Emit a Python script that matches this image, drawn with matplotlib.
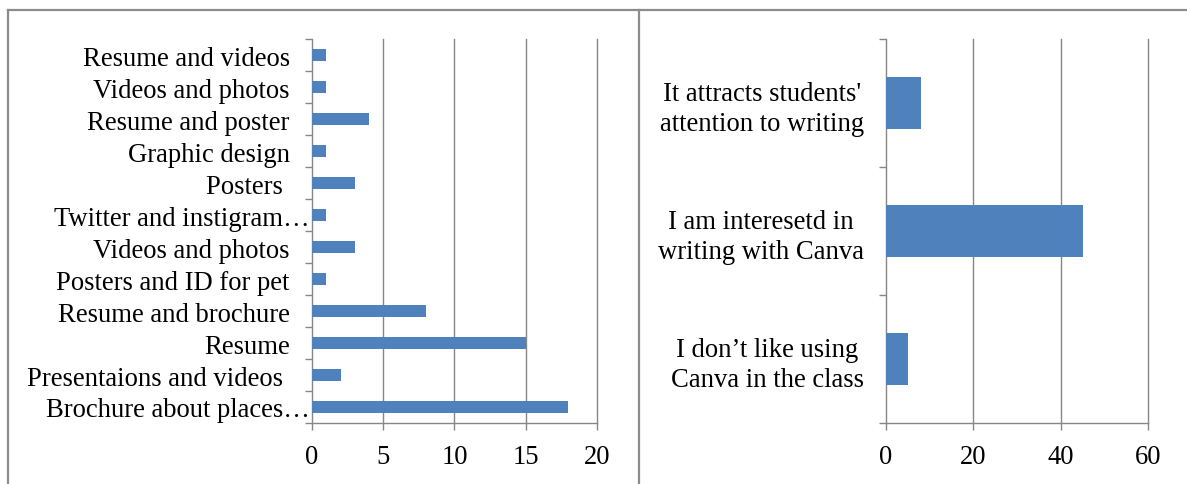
import matplotlib
matplotlib.use("Agg")
import matplotlib.pyplot as plt
import matplotlib.transforms as mtransforms
from matplotlib.lines import Line2D
import numpy as np

plt.rcParams['font.family'] = ['Liberation Serif', 'DejaVu Serif']

# Left chart: kinds of work produced with Canva (top to bottom)
uses = ["Resume and videos", "Videos and photos", "Resume and poster", "Graphic design",
        "Posters ", "Twitter and instigram…", "Videos and photos", "Posters and ID for pet",
        "Resume and brochure", "Resume", "Presentaions and videos ", "Brochure about places…"]
use_counts = [1, 1, 4, 1, 3, 1, 3, 1, 8, 15, 2, 18]
use_ticks = [0, 5, 10, 15, 20]

# Right chart: attitudes toward writing with Canva (top to bottom)
opinions = ["It attracts students'\nattention to writing",
            "I am interesetd in\nwriting with Canva",
            "I don\u2019t like using\nCanva in the class"]
opinion_counts = [8, 45, 5]
opinion_ticks = [0, 20, 40, 60]

BAR = "#4F81BD"
GRID = "#868686"
FS = 19.2

W, H = 1187, 485
fig = plt.figure(figsize=(W / 100, H / 100), dpi=100)


def style(ax, labels, values, ticks):
    n = len(labels)
    pos = np.arange(n)[::-1]
    ax.barh(pos, values, height=0.4, color=BAR, zorder=3)
    ax.set_ylim(-0.5, n - 0.5)
    ax.set_xlim(ticks[0], ticks[-1])
    ax.set_yticks(pos)
    ax.set_yticklabels(labels)
    ax.set_yticks(np.arange(-0.5, n, 1.0), minor=True)
    ax.tick_params(axis='y', which='major', length=0, pad=16, labelsize=FS)
    ax.tick_params(axis='y', which='minor', length=5, width=1, color=GRID, direction='out')
    ax.set_xticks(ticks)
    ax.tick_params(axis='x', which='major', length=5, width=1, color=GRID,
                   direction='out', pad=10, labelsize=FS)
    for t in ticks[1:]:
        ax.axvline(t, color=GRID, lw=1, zorder=1, clip_on=False)
    for s in ('top', 'right'):
        ax.spines[s].set_visible(False)
    for s in ('left', 'bottom'):
        ax.spines[s].set_color(GRID)
        ax.spines[s].set_linewidth(1)
    ax.set_facecolor('none')


y0 = (H - 424) / H
hgt = (424 - 40) / H

ax1 = fig.add_axes([312 / W, y0, 285 / W, hgt])
style(ax1, uses, use_counts, use_ticks)
for lbl in ax1.get_yticklabels():
    if lbl.get_text().endswith('…'):
        lbl.set_transform(lbl.get_transform() +
                          mtransforms.ScaledTranslation(20 / 100, 0, fig.dpi_scale_trans))

ax2 = fig.add_axes([886 / W, y0, 262 / W, hgt])
style(ax2, opinions, opinion_counts, opinion_ticks)
for lbl in ax2.get_yticklabels():
    lbl.set_multialignment('center')
    lbl.set_linespacing(1.25)

# panel frame lines
frame = dict(color="#8C8C8C", lw=1.6, transform=fig.transFigure)
ty = 1 - 11 / H
fig.add_artist(Line2D([8 / W, 1], [ty, ty], **frame))
fig.add_artist(Line2D([8 / W, 8 / W], [0, ty], **frame))
fig.add_artist(Line2D([639 / W, 639 / W], [0, ty], **frame))

fig.savefig("out.png", dpi=100)
